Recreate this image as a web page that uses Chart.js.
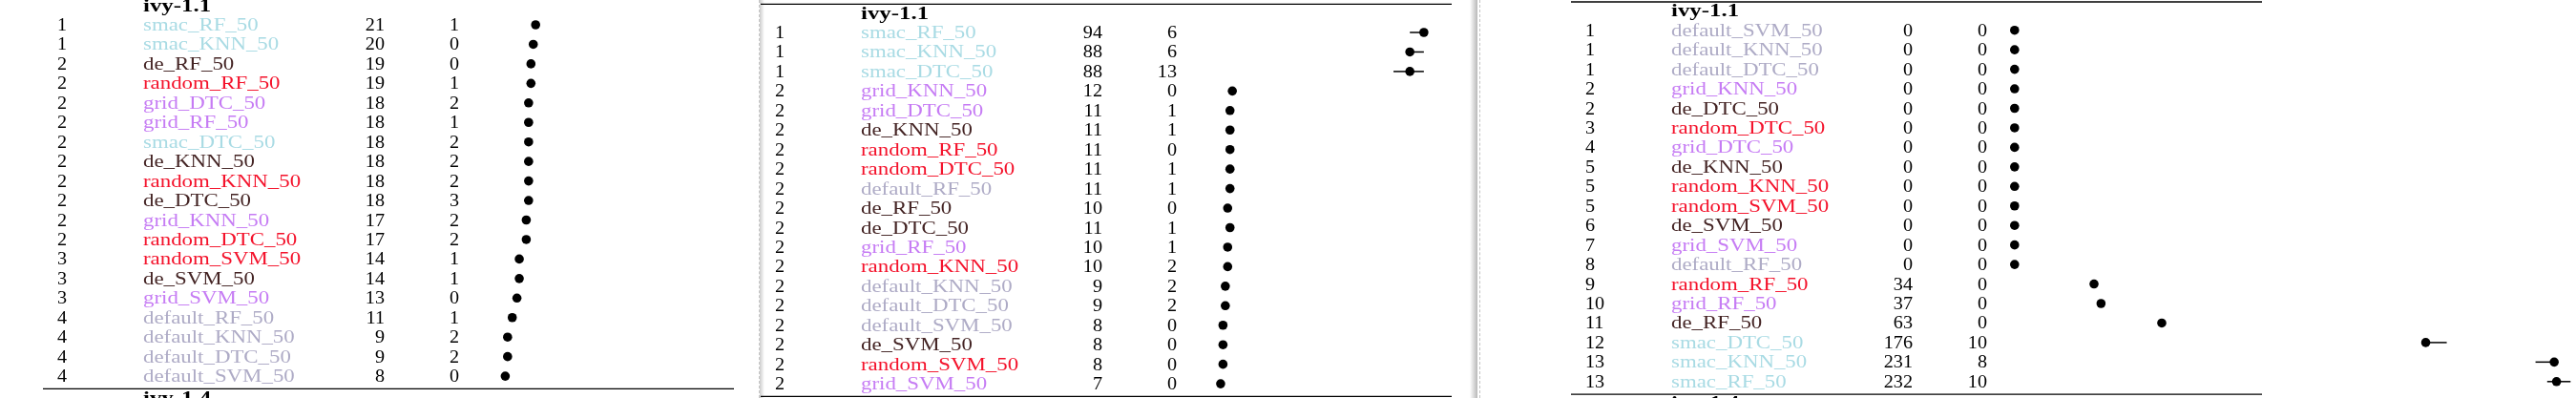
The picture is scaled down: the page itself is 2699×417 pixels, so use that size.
<!DOCTYPE html>
<html>
<head>
<meta charset="utf-8">
<script src="https://cdn.jsdelivr.net/npm/chart.js@4.4.0/dist/chart.umd.min.js"></script>
<style>
  html, body { margin: 0; padding: 0; background: #fff; }
  #page { position: relative; width: 2699px; height: 417px; overflow: hidden; background: #fff; }
  .panel { position: absolute; top: 0; }
  .dash { position: absolute; top: 0; height: 417px; border-left: 1px dashed #c4c4c4; }
  .shade { position: absolute; top: 0; height: 417px; }
</style>
</head>
<body>
<div id="page">
  <div class="dash" style="left:795px"></div>
  <div class="shade" style="left:796px;width:5px;background:linear-gradient(to right,#cdcdcd,#fff)"></div>
  <div class="shade" style="left:1540px;width:8px;background:linear-gradient(to right,#fff,#b8b8b8)"></div>
  <div class="dash" style="left:1550px"></div>
  <canvas id="c1" class="panel" width="795" height="417" style="left:0px"></canvas>
  <canvas id="c2" class="panel" width="756" height="417" style="left:795px"></canvas>
  <canvas id="c3" class="panel" width="1148" height="417" style="left:1551px"></canvas>
</div>
<script>
const titleTop = "ivy-1.1";
const titleNext = "ivy-1.4";

// left page
const ranksA = [1, 1, 2, 2, 2, 2, 2, 2, 2, 2, 2, 2, 3, 3, 3, 4, 4, 4, 4];
const namesA = ["smac_RF_50", "smac_KNN_50", "de_RF_50", "random_RF_50", "grid_DTC_50",
  "grid_RF_50", "smac_DTC_50", "de_KNN_50", "random_KNN_50", "de_DTC_50", "grid_KNN_50",
  "random_DTC_50", "random_SVM_50", "de_SVM_50", "grid_SVM_50", "default_RF_50",
  "default_KNN_50", "default_DTC_50", "default_SVM_50"];
const mediansA = [21, 20, 19, 19, 18, 18, 18, 18, 18, 18, 17, 17, 14, 14, 13, 11, 9, 9, 8];
const iqrsA = [1, 0, 0, 1, 2, 1, 2, 2, 2, 3, 2, 2, 1, 1, 0, 1, 2, 2, 0];
const lowA = [20, 20, 19, 18, 17, 17, 17, 17, 17, 16, 16, 16, 13, 13, 13, 10, 8, 8, 8];
const highA = [21, 20, 19, 19, 19, 18, 19, 19, 19, 19, 18, 18, 14, 14, 13, 11, 10, 10, 8];

// middle page
const ranksB = [1, 1, 1, 2, 2, 2, 2, 2, 2, 2, 2, 2, 2, 2, 2, 2, 2, 2, 2];
const namesB = ["smac_RF_50", "smac_KNN_50", "smac_DTC_50", "grid_KNN_50", "grid_DTC_50",
  "de_KNN_50", "random_RF_50", "random_DTC_50", "default_RF_50", "de_RF_50", "de_DTC_50",
  "grid_RF_50", "random_KNN_50", "default_KNN_50", "default_DTC_50", "default_SVM_50",
  "de_SVM_50", "random_SVM_50", "grid_SVM_50"];
const mediansB = [94, 88, 88, 12, 11, 11, 11, 11, 11, 10, 11, 10, 10, 9, 9, 8, 8, 8, 7];
const iqrsB = [6, 6, 13, 0, 1, 1, 0, 1, 1, 0, 1, 1, 2, 2, 2, 0, 0, 0, 0];
const lowB = [88, 88, 81, 12, 10, 10, 11, 10, 10, 10, 10, 9, 9, 8, 8, 8, 8, 8, 7];
const highB = [94, 94, 94, 12, 11, 11, 11, 11, 11, 10, 11, 10, 11, 10, 10, 8, 8, 8, 7];

// right page
const ranksC = [1, 1, 1, 2, 2, 3, 4, 5, 5, 5, 6, 7, 8, 9, 10, 11, 12, 13, 13];
const namesC = ["default_SVM_50", "default_KNN_50", "default_DTC_50", "grid_KNN_50",
  "de_DTC_50", "random_DTC_50", "grid_DTC_50", "de_KNN_50", "random_KNN_50",
  "random_SVM_50", "de_SVM_50", "grid_SVM_50", "default_RF_50", "random_RF_50",
  "grid_RF_50", "de_RF_50", "smac_DTC_50", "smac_KNN_50", "smac_RF_50"];
const mediansC = [0, 0, 0, 0, 0, 0, 0, 0, 0, 0, 0, 0, 0, 34, 37, 63, 176, 231, 232];
const iqrsC = [0, 0, 0, 0, 0, 0, 0, 0, 0, 0, 0, 0, 0, 0, 0, 0, 10, 8, 10];
const lowC = [0, 0, 0, 0, 0, 0, 0, 0, 0, 0, 0, 0, 0, 34, 37, 63, 175, 223, 228];
const highC = [0, 0, 0, 0, 0, 0, 0, 0, 0, 0, 0, 0, 0, 34, 37, 63, 185, 231, 238];

// colour of a name by its method prefix
const methodColors = {
  smac: "#a9dbe4",
  random: "#f4122b",
  grid: "#c67cf4",
  de: "#442424",
  default: "#aeabc6"
};

// column positions, measured on the left page
const COL = { rank: 60, name: 150, medianRight: 403, iqrRight: 481, ruleL: 45, ruleR: 769, zero: 509.8 };
const PX_PER_UNIT = 2.4474;
const ROW_GAP = 20.45;
const FONT = '"Liberation Serif", "Times New Roman", serif';

function stretchText(ctx, str, x, y, align, sx) {
    ctx.save();
    ctx.translate(x, y);
    ctx.scale(sx, 1);
    ctx.textAlign = align;
    ctx.fillText(str, 0, 0);
    ctx.restore();
}

const tablePlugin = {
    id: "table",
    beforeDatasetsDraw(chart, args, opts) {
        const ctx = chart.ctx;
        const x = chart.scales.x;
        const y = chart.scales.y;
        const dx = opts.dx;
        const n = opts.names.length;
        ctx.save();

        // rules
        ctx.strokeStyle = "#000";
        ctx.lineWidth = 1.4;
        const topY = y.getPixelForValue(-1) - 9.2;
        const botY = y.getPixelForValue(n - 1) + 13.3;
        [topY, botY].forEach(ry => {
            ctx.beginPath();
            ctx.moveTo(COL.ruleL + dx, ry);
            ctx.lineTo(COL.ruleR + dx, ry);
            ctx.stroke();
        });

        // interquartile whiskers
        ctx.lineWidth = 1.5;
        opts.low.forEach((lo, i) => {
            const hi = opts.high[i];
            if (hi <= lo) return;
            const py = y.getPixelForValue(i);
            ctx.beginPath();
            ctx.moveTo(x.getPixelForValue(lo), py);
            ctx.lineTo(x.getPixelForValue(hi), py);
            ctx.stroke();
        });

        // titles
        ctx.fillStyle = "#000";
        ctx.textBaseline = "alphabetic";
        ctx.font = "bold 18px " + FONT;
        stretchText(ctx, titleTop, COL.name + dx, y.getPixelForValue(-1) + 6, "left", 1.38);
        stretchText(ctx, titleNext, COL.name + dx, y.getPixelForValue(n + 0.1) + 6, "left", 1.38);

        // table rows
        ctx.font = "18px " + FONT;
        opts.names.forEach((name, i) => {
            const base = y.getPixelForValue(i) + 6;
            ctx.fillStyle = "#000";
            stretchText(ctx, String(opts.ranks[i]), COL.rank + dx, base, "left", 1.12);
            stretchText(ctx, String(opts.medians[i]), COL.medianRight + dx, base, "right", 1.12);
            stretchText(ctx, String(opts.iqrs[i]), COL.iqrRight + dx, base, "right", 1.12);
            ctx.fillStyle = methodColors[name.split("_")[0]];
            stretchText(ctx, name, COL.name + dx, base, "left", 1.27);
        });
        ctx.restore();
    }
};

function makePanel(id, left, offsetX, firstRow, ranks, names, medians, iqrs, low, high) {
    const canvas = document.getElementById(id);
    const w = canvas.width, h = canvas.height;
    const dx = offsetX - left;
    const zeroLocal = COL.zero + dx;
    const xMax = Math.floor((w - zeroLocal - 1) / PX_PER_UNIT);
    const top = firstRow - ROW_GAP;
    const bottom = firstRow + (names.length - 1) * ROW_GAP;

    return new Chart(canvas.getContext("2d"), {
        type: "scatter",
        data: {
            datasets: [{
                data: medians.map((m, i) => ({ x: m, y: i })),
                pointRadius: 4.8,
                pointBackgroundColor: "#000",
                pointBorderWidth: 0,
                clip: false
            }]
        },
        options: {
            responsive: false,
            animation: false,
            events: [],
            layout: {
                autoPadding: false,
                padding: { left: zeroLocal, right: w - zeroLocal - xMax * PX_PER_UNIT, top: top, bottom: h - bottom }
            },
            scales: {
                x: { type: "linear", display: false, min: 0, max: xMax },
                y: { type: "linear", display: false, min: -1, max: names.length - 1, reverse: true }
            },
            plugins: {
                legend: { display: false },
                tooltip: { enabled: false },
                table: { dx, ranks, names, medians, iqrs, low, high }
            }
        },
        plugins: [tablePlugin]
    });
}

makePanel("c1", 0, 0, 26, ranksA, namesA, mediansA, iqrsA, lowA, highA);
makePanel("c2", 795, 752, 34, ranksB, namesB, mediansB, iqrsB, lowB, highB);
makePanel("c3", 1551, 1601, 31.7, ranksC, namesC, mediansC, iqrsC, lowC, highC);
</script>
</body>
</html>
